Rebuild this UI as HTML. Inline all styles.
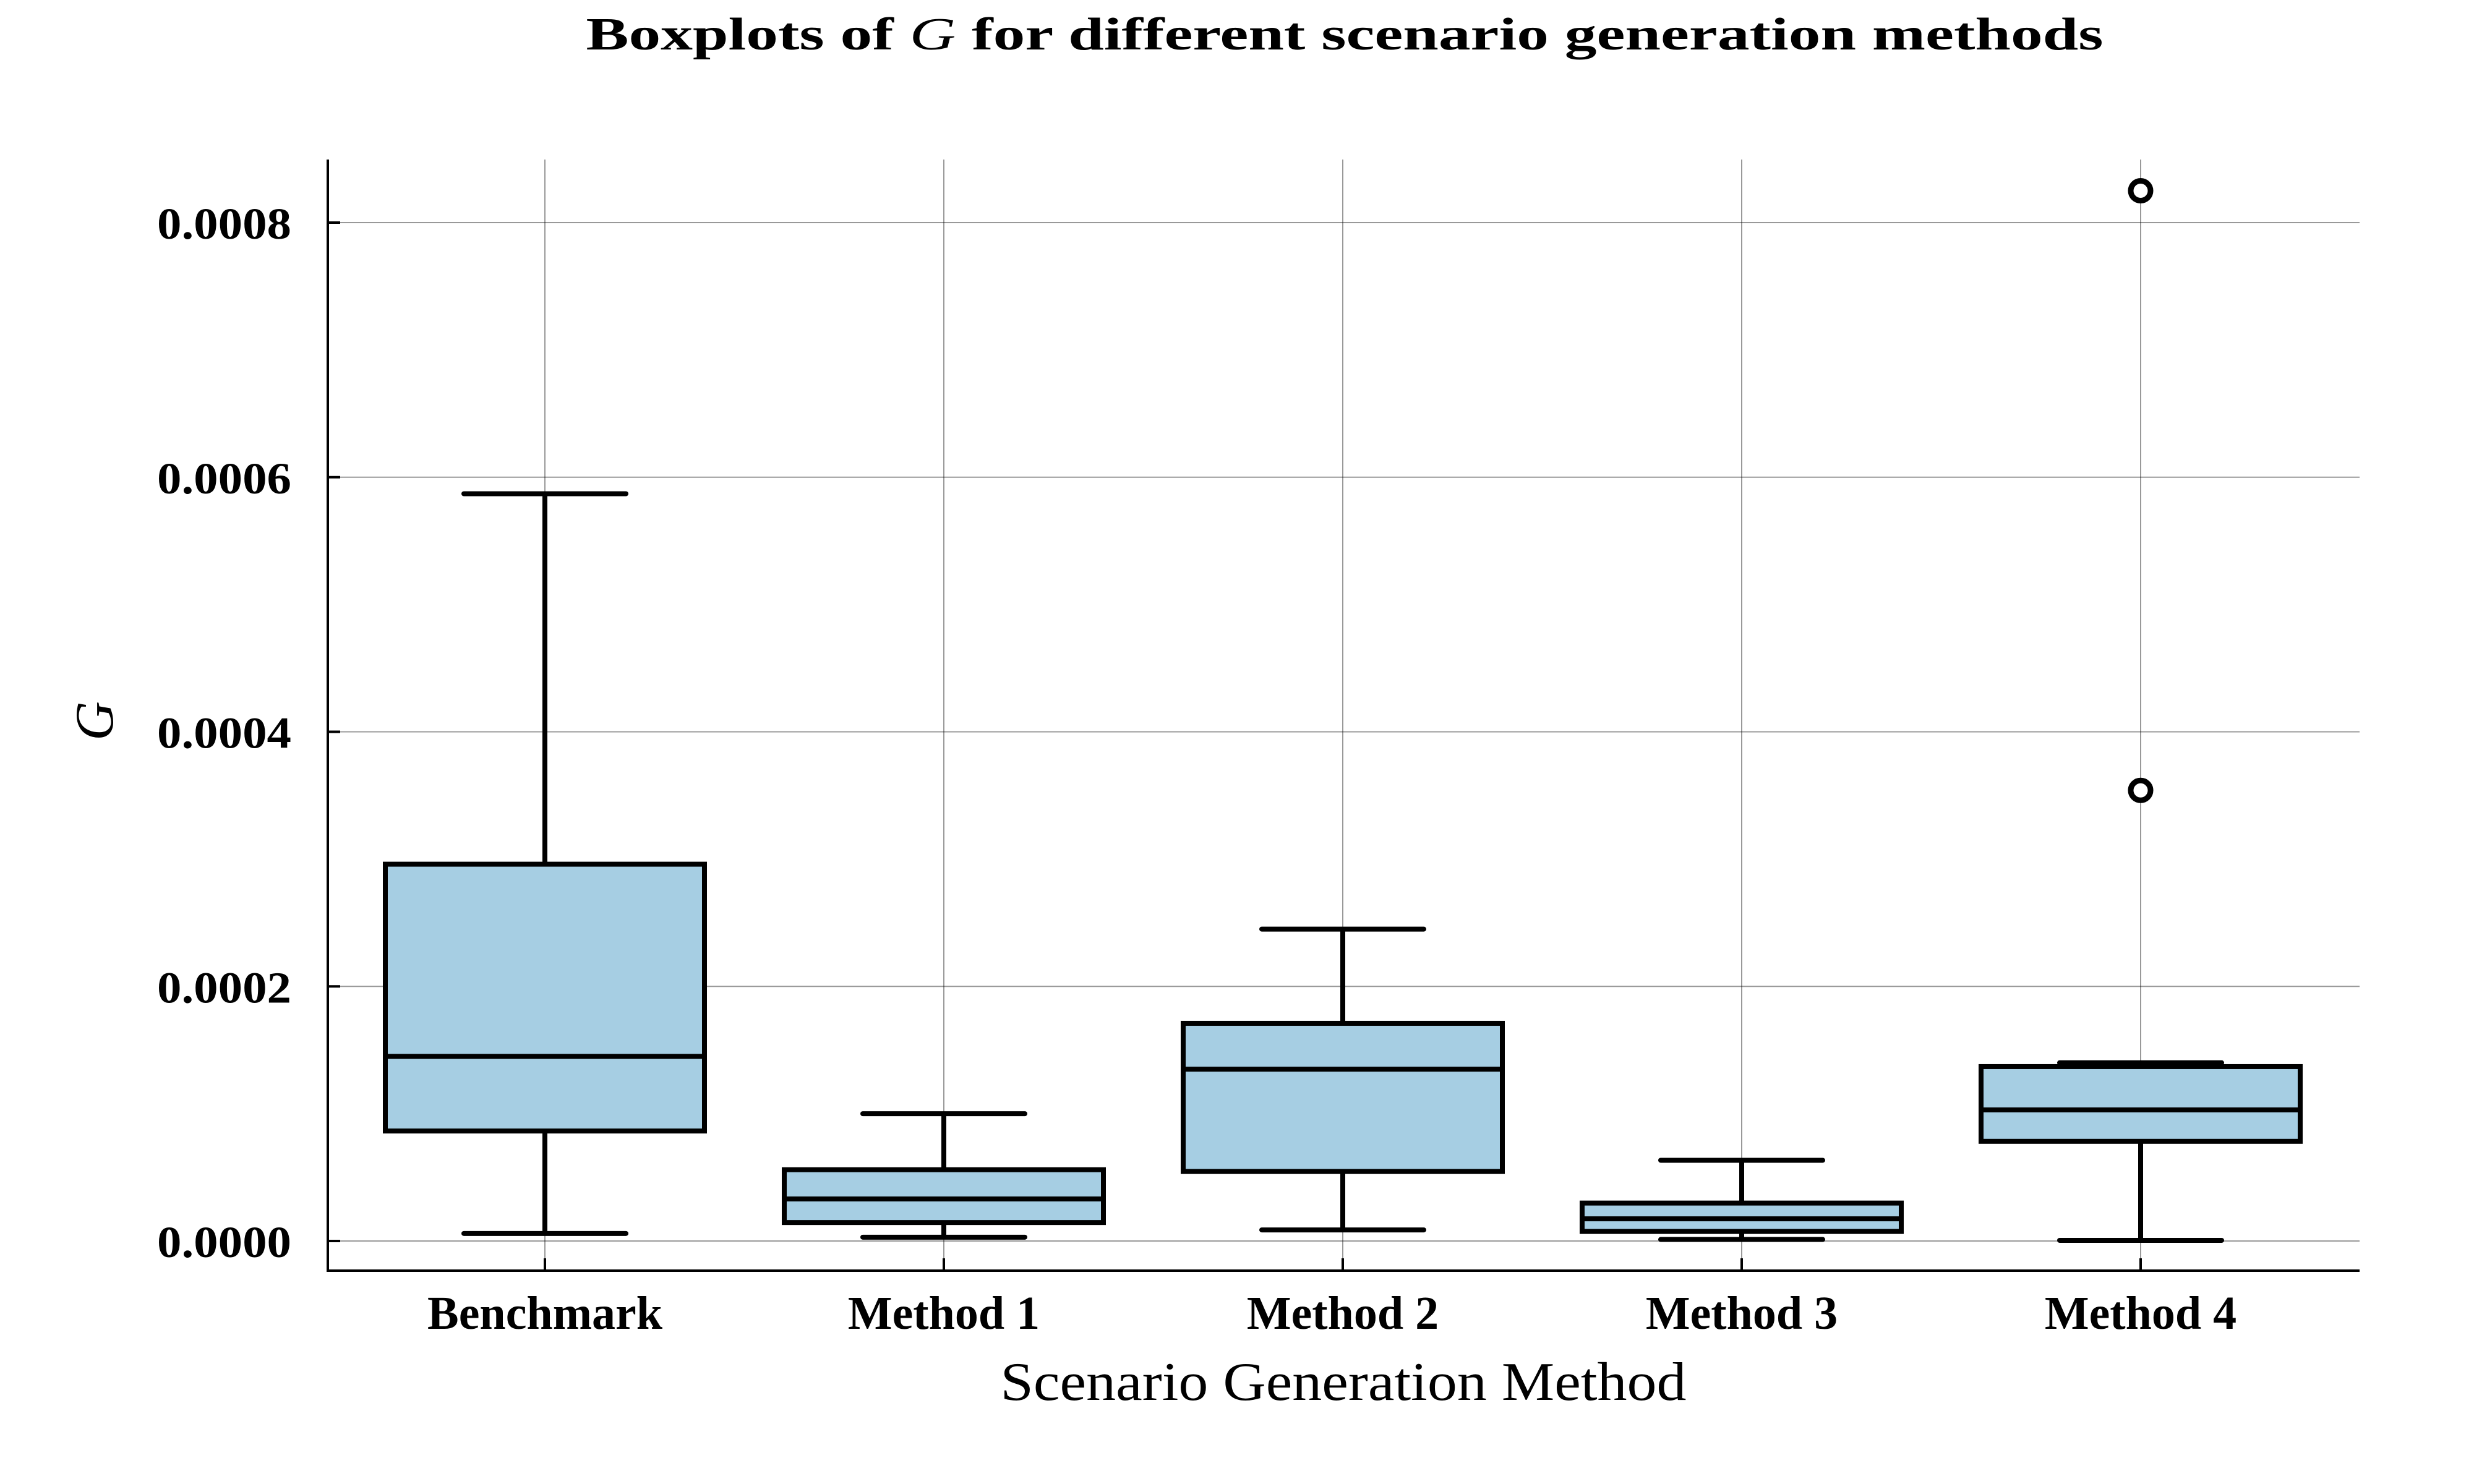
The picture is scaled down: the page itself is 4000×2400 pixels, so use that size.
<!DOCTYPE html>
<html><head><meta charset="utf-8"><style>
html,body{margin:0;padding:0;background:#fff;}
svg{display:block;font-family:"Liberation Serif",serif;}
</style></head><body>
<svg id="chart" width="4000" height="2400" viewBox="0 0 4000 2400" xmlns="http://www.w3.org/2000/svg">
<rect width="4000" height="2400" fill="#fff"/>
<text x="2174" y="80" text-anchor="middle" font-size="74" font-weight="bold" textLength="2453" lengthAdjust="spacingAndGlyphs">Boxplots of <tspan font-style="italic" font-weight="normal">G</tspan> for different scenario generation methods</text>
<g id="grid"></g>
<g id="marks"></g>
<g id="axes"></g>
<text x="2172" y="2264" text-anchor="middle" font-size="88" textLength="1109" lengthAdjust="spacingAndGlyphs">Scenario Generation Method</text>
<text x="0" y="0" transform="translate(182,1166) rotate(-90)" text-anchor="middle" font-size="88" font-style="italic">G</text>
</svg>
<script>
const categories = ["Benchmark","Method 1","Method 2","Method 3","Method 4"];
const lowerWhisker = [0.0000059,0.000003,0.0000087,0.0000012,0.0000005];
const q1 = [0.0000864,0.0000145,0.0000546,0.0000075,0.0000783];
const median = [0.000145,0.000033,0.000135,0.0000174,0.000103];
const q3 = [0.000296,0.000056,0.000171,0.0000298,0.000137];
const upperWhisker = [0.000587,0.0001,0.000245,0.0000634,0.00014];
const outlierCat = [4,4];
const outlierVal = [0.000825,0.000354];
const yTicks = [0,0.0002,0.0004,0.0006,0.0008];
const yTickLabels = ["0.0000","0.0002","0.0004","0.0006","0.0008"];

const L=530,R=3815,T=258,B=2055;
const y0px=2007, yPerUnit=411.75/0.0002;
function yS(v){return y0px - v*yPerUnit;}
function xS(i){return 881 + i*645;}
const NS="http://www.w3.org/2000/svg";
function mk(tag,attrs,parent){const e=document.createElementNS(NS,tag);for(const k in attrs)e.setAttribute(k,attrs[k]);parent.appendChild(e);return e;}
const grid=document.getElementById('grid'),marks=document.getElementById('marks'),axes=document.getElementById('axes');
const SW=8;
yTicks.forEach((t,i)=>{
  const g=mk('line',{x1:L,x2:R,y1:yS(t),y2:yS(t),stroke:'#000','stroke-opacity':0.4,'stroke-width':2},grid);
  
  
  const tk=mk('line',{x1:L,x2:L+20,y1:yS(t),y2:yS(t),stroke:'#000','stroke-width':4},axes);
  
  
  const tx=mk('text',{x:471,y:yS(t)+26,'text-anchor':'end','font-size':72,'font-weight':'bold',textLength:217,lengthAdjust:'spacingAndGlyphs'},axes);
  tx.textContent=yTickLabels[i];
  
  
});
categories.forEach((c,i)=>{
  const x=xS(i);
  const g=mk('line',{x1:x,x2:x,y1:T,y2:B,stroke:'#000','stroke-opacity':0.4,'stroke-width':2},grid);
  
  
  const tk=mk('line',{x1:x,x2:x,y1:B,y2:B-20,stroke:'#000','stroke-width':4},axes);
  
  
  const tx=mk('text',{x:x,y:2149,'text-anchor':'middle','font-size':76,'font-weight':'bold'},axes);
  tx.textContent=c;
  
  

  const hw=258, cw=131;
  const g2=mk('g',{},marks);
  
  
  mk('line',{x1:x,x2:x,y1:yS(q3[i]),y2:yS(upperWhisker[i]),stroke:'#000','stroke-width':SW},g2);
  mk('line',{x1:x,x2:x,y1:yS(q1[i]),y2:yS(lowerWhisker[i]),stroke:'#000','stroke-width':SW},g2);
  mk('line',{x1:x-cw,x2:x+cw,y1:yS(upperWhisker[i]),y2:yS(upperWhisker[i]),stroke:'#000','stroke-width':SW,'stroke-linecap':'round'},g2);
  mk('line',{x1:x-cw,x2:x+cw,y1:yS(lowerWhisker[i]),y2:yS(lowerWhisker[i]),stroke:'#000','stroke-width':SW,'stroke-linecap':'round'},g2);
  mk('rect',{x:x-hw,y:yS(q3[i]),width:2*hw,height:yS(q1[i])-yS(q3[i]),fill:'#a6cee3',stroke:'#000','stroke-width':SW},g2);
  mk('line',{x1:x-hw,x2:x+hw,y1:yS(median[i]),y2:yS(median[i]),stroke:'#000','stroke-width':SW},g2);
});
outlierVal.forEach((v,j)=>{
  const c=mk('circle',{cx:xS(outlierCat[j]),cy:yS(v),r:16,fill:'#fff',stroke:'#000','stroke-width':9},marks);
  
  
});
const ax=mk('path',{d:`M${L},${T} L${L},${B} L${R},${B}`,fill:'none',stroke:'#000','stroke-width':4},axes);


</script>
</body></html>
